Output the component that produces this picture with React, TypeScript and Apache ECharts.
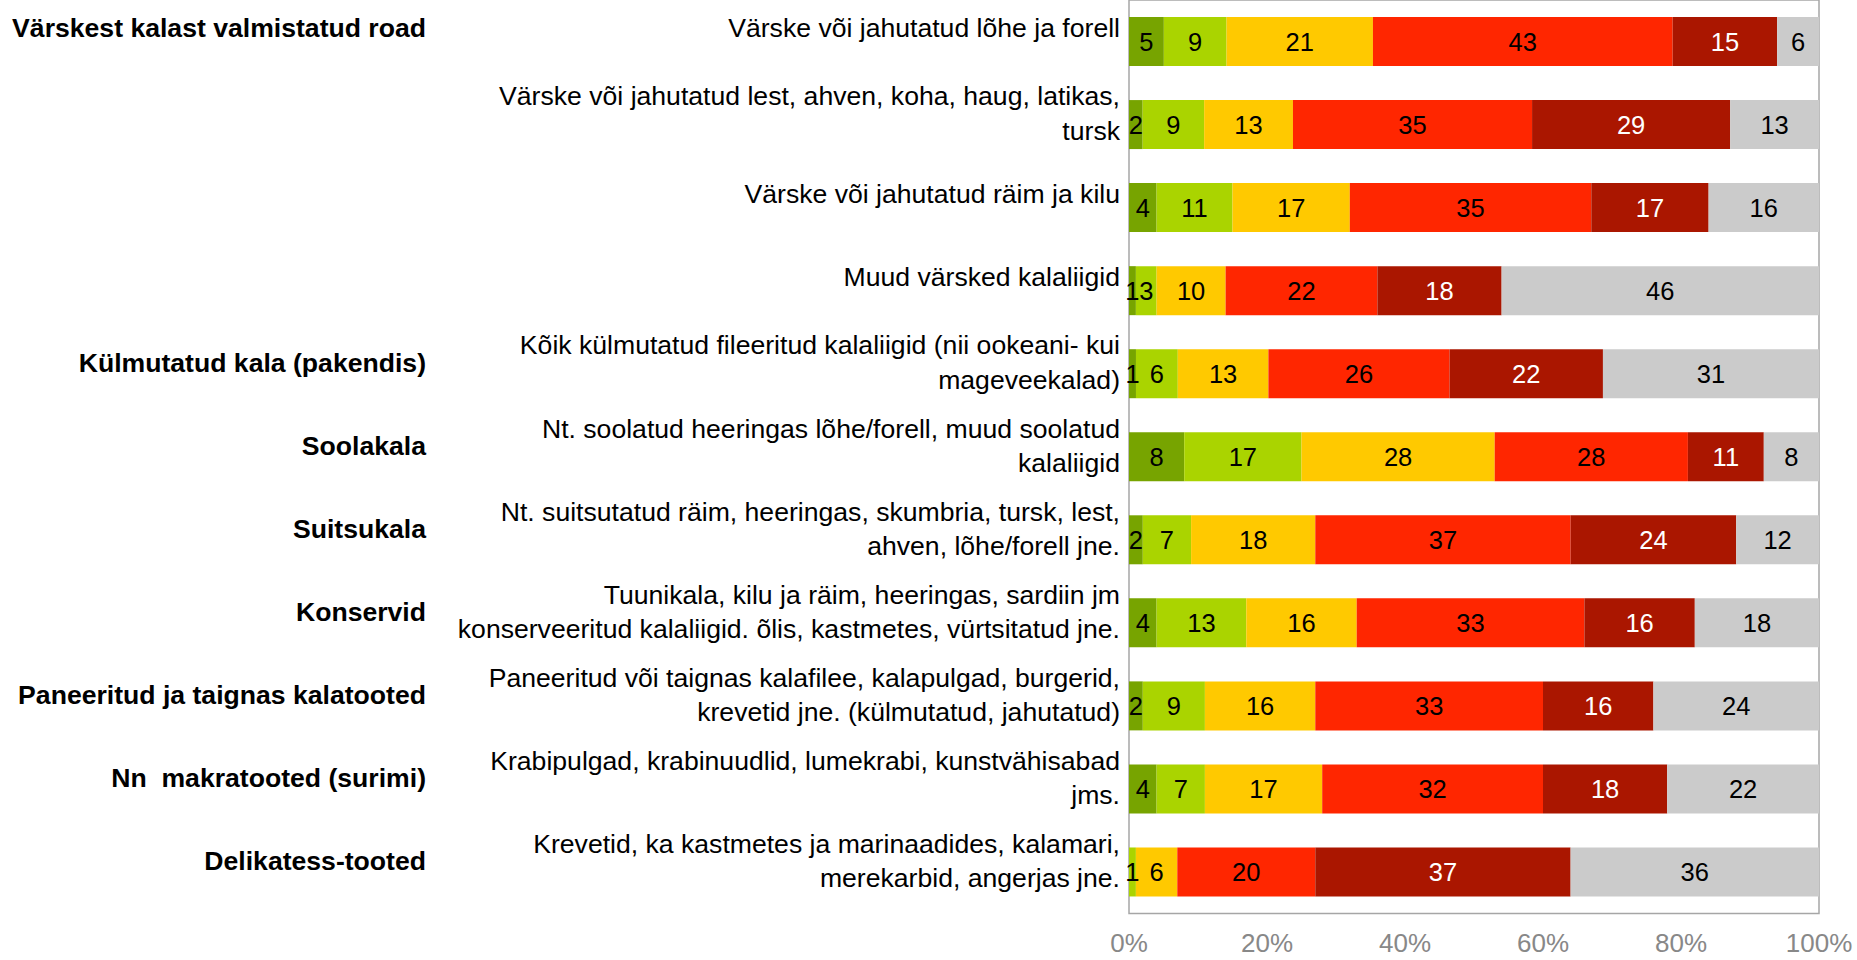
import React, { useEffect, useRef } from "react";
import * as echarts from "echarts";

const subLabels: string[] = [
  "Värske või jahutatud lõhe ja forell",
  "Värske või jahutatud lest, ahven, koha, haug, latikas,\ntursk",
  "Värske või jahutatud räim ja kilu",
  "Muud värsked kalaliigid",
  "Kõik külmutatud fileeritud kalaliigid (nii ookeani- kui\nmageveekalad)",
  "Nt. soolatud heeringas lõhe/forell, muud soolatud\nkalaliigid",
  "Nt. suitsutatud räim, heeringas, skumbria, tursk, lest,\nahven, lõhe/forell jne.",
  "Tuunikala, kilu ja räim, heeringas, sardiin jm\nkonserveeritud kalaliigid. õlis, kastmetes, vürtsitatud jne.",
  "Paneeritud või taignas kalafilee, kalapulgad, burgerid,\nkrevetid jne. (külmutatud, jahutatud)",
  "Krabipulgad, krabinuudlid, lumekrabi, kunstvähisabad\njms.",
  "Krevetid, ka kastmetes ja marinaadides, kalamari,\nmerekarbid, angerjas jne.",
];

const groupLabels: string[] = [
  "Värskest kalast valmistatud road",
  "",
  "",
  "",
  "Külmutatud kala (pakendis)",
  "Soolakala",
  "Suitsukala",
  "Konservid",
  "Paneeritud ja taignas kalatooted",
  "Nn  makratooted (surimi)",
  "Delikatess-tooted",
];

const s1: number[] = [5, 2, 4, 1, 1, 8, 2, 4, 2, 4, 0];
const s2: number[] = [9, 9, 11, 3, 6, 17, 7, 13, 9, 7, 1];
const s3: number[] = [21, 13, 17, 10, 13, 28, 18, 16, 16, 17, 6];
const s4: number[] = [43, 35, 35, 22, 26, 28, 37, 33, 33, 32, 20];
const s5: number[] = [15, 29, 17, 18, 22, 11, 24, 16, 16, 18, 37];
const s6: number[] = [6, 13, 16, 46, 31, 8, 12, 18, 24, 22, 36];

const xTicks: number[] = [0, 20, 40, 60, 80, 100];

const seriesValues = [s1, s2, s3, s4, s5, s6];
const seriesColors = ["#77a400", "#aad400", "#ffc900", "#ff2600", "#aa1600", "#cbcbcb"];
const labelColors = ["#000", "#000", "#000", "#000", "#fff", "#000"];

function richLabel(text: string, style: string, shiftUp: number): string {
  const lines = text.split("\n").map((l) => `{${style}|${l}}`);
  const pad = shiftUp >= 14 ? "p28" : "p22";
  return lines.join("\n") + `\n{${pad}| }`;
}

export default function App() {
  const ref = useRef<HTMLDivElement>(null);
  useEffect(() => {
    if (!ref.current) return;
    const chart = echarts.init(ref.current, undefined, { renderer: "svg" });
    const rowSums = subLabels.map((_, i) =>
      seriesValues.reduce((acc, s) => acc + s[i], 0)
    );
    const font = "'Liberation Sans', Arial, sans-serif";
    const padStyles = {
      p28: { fontSize: 2, lineHeight: 28 },
      p22: { fontSize: 2, lineHeight: 22 },
    };
    chart.setOption({
      animation: false,
      backgroundColor: "#fff",
      grid: {
        left: 1129,
        right: 38,
        top: -4.5,
        bottom: 46.5,
        show: true,
        borderColor: "#a6a6a6",
        borderWidth: 1.5,
        backgroundColor: "transparent",
      },
      xAxis: {
        type: "value",
        min: xTicks[0],
        max: xTicks[xTicks.length - 1],
        interval: 20,
        axisLine: { show: false },
        axisTick: { show: false },
        splitLine: { show: false },
        axisLabel: {
          formatter: "{value}%",
          color: "#888888",
          fontSize: 26,
          fontFamily: font,
          margin: 16,
        },
      },
      yAxis: [
        {
          type: "category",
          inverse: true,
          data: subLabels,
          axisLine: { show: false },
          axisTick: { show: false },
          splitLine: { show: false },
          axisLabel: {
            interval: 0,
            align: "right",
            margin: 9,
            formatter: (v: string) =>
              richLabel(v, "a", v.indexOf("\n") >= 0 ? 11 : 14),
            rich: {
              a: {
                color: "#000",
                fontSize: 26.6,
                lineHeight: 34.5,
                fontFamily: font,
                align: "right",
              },
              ...padStyles,
            },
          },
        },
        {
          type: "category",
          inverse: true,
          position: "left",
          offset: 694,
          data: subLabels,
          axisLine: { show: false },
          axisTick: { show: false },
          splitLine: { show: false },
          axisLabel: {
            interval: 0,
            align: "right",
            margin: 9,
            formatter: (_v: string, idx: number) =>
              groupLabels[idx] ? richLabel(groupLabels[idx], "b", idx === 0 ? 14 : 11) : "",
            rich: {
              b: {
                color: "#000",
                fontSize: 26.6,
                lineHeight: 34.5,
                fontWeight: "bold",
                fontFamily: font,
                align: "right",
              },
              ...padStyles,
            },
          },
        },
      ],
      series: seriesValues.map((vals, si) => ({
        name: "Seeria " + (si + 1),
        type: "bar",
        stack: "total",
        yAxisIndex: 0,
        barWidth: 49,
        itemStyle: { color: seriesColors[si] },
        data: vals.map((v, i) => ({ value: (v / rowSums[i]) * 100, raw: v })),
        label: {
          show: true,
          position: "inside",
          color: labelColors[si],
          fontSize: 25.5,
          fontFamily: font,
          formatter: (p: any) => (p.data.raw === 0 ? "" : String(p.data.raw)),
        },
      })),
    });
    return () => chart.dispose();
  }, []);
  return (
    <div
      ref={ref}
      style={{ position: "fixed", left: 0, top: 0, width: 1857, height: 960, background: "#fff" }}
    />
  );
}
